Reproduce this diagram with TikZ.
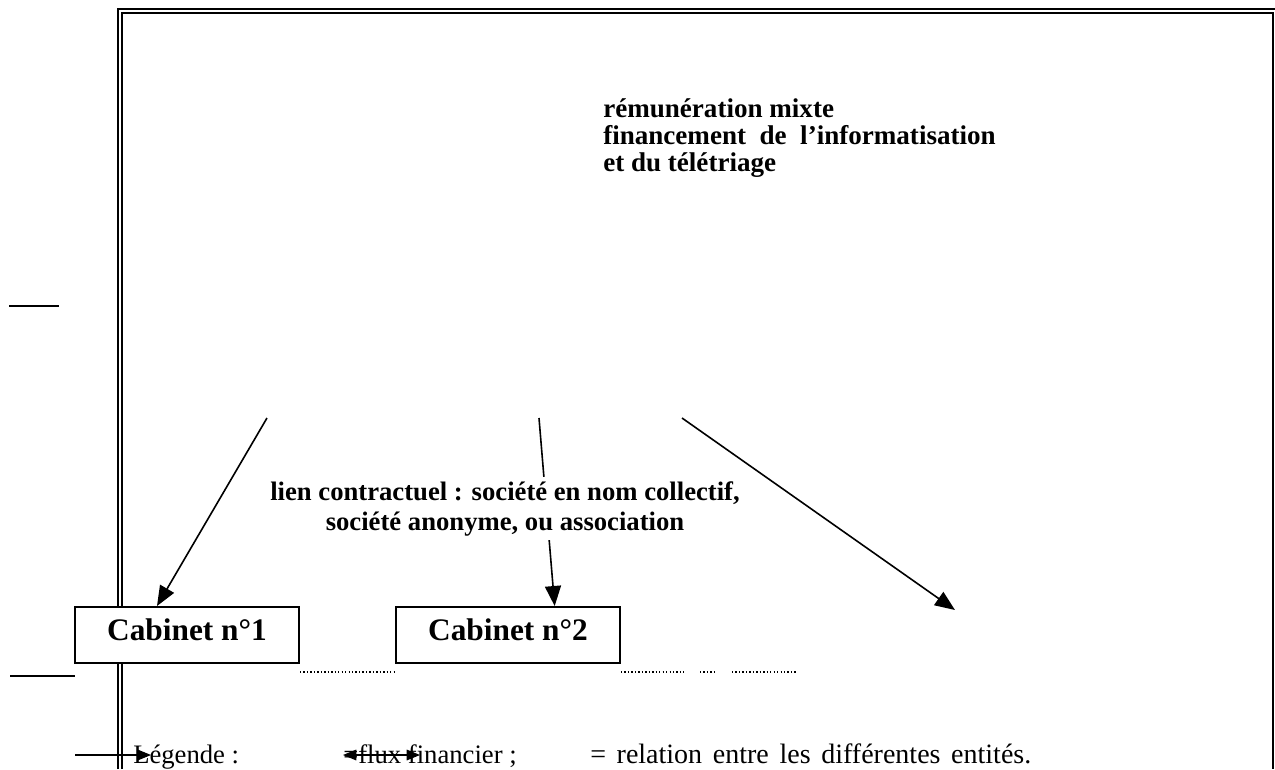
\documentclass[tikz,border=0pt]{standalone}
\usepackage{fontspec}
\setmainfont{Liberation Serif}
\usetikzlibrary{arrows.meta,positioning}
\tikzset{
	cabinet/.style={draw, line width=1.5pt, fill=white, font=\fontsize{23.5}{28}\selectfont\bfseries,
		minimum width=168pt, inner sep=0pt, text height=24.75pt, text depth=17.25pt},
	bigtext/.style={font=\fontsize{20.3}{20.25}\selectfont\bfseries, align=left, inner sep=0pt},
	lientext/.style={font=\fontsize{20}{22.5}\selectfont\bfseries, align=center, fill=white, inner sep=3pt},
	legende/.style={font=\fontsize{20}{24}\selectfont, inner sep=0pt, anchor=base west},
	fleche/.style={line width=1.2pt, -{Triangle[length=15pt,width=12pt]}},
	petite fleche/.style={line width=0.8pt},
	cadre/.style={line width=1.5pt},
	pointille/.style={line width=1pt, dash pattern=on 1pt off 1.6pt},
}
\begin{document}
\begin{tikzpicture}[x=0.75pt,y=-0.75pt]
	\useasboundingbox (0,0) rectangle (1275,769);
	% cadre
	\draw[cadre] (117.5,769) -- (117.5,9) -- (1275,9);
	\draw[cadre] (121.5,769) -- (121.5,13) -- (1272.5,13) -- (1272.5,769);
	\draw[line width=1.5pt] (9,306) -- (59,306);
	\draw[line width=1.5pt] (10,676) -- (75,676);
	\draw[petite fleche, -{Triangle[length=10pt,width=8pt]}] (75,755) -- (151,755);
	
	\node[bigtext, anchor=base west] (remun) at (603,171) {rémunération mixte\\financement\ \ de\ \ l’informatisation\\et du télétriage};
	
	\coordinate (src1) at (267,418);
	\coordinate (src2) at (539,418);
	\coordinate (src3) at (682,418);
	\coordinate (tip3) at (955,610);
	
	\node[cabinet] (cab1) at (187,635) {Cabinet n°1};
	\node[cabinet, right=71.25pt of cab1] (cab2) {Cabinet n°2};
	
	\draw[fleche] (src1) -- ([xshift=-22.5pt]cab1.north);
	\draw[fleche] (src2) -- ([xshift=35pt]cab2.north);
	\draw[fleche] (src3) -- (tip3);
	\node[lientext, anchor=base] (lien) at (505,530) {lien contractuel : société en nom collectif,\\société anonyme, ou association};
	
	\draw[pointille] ([yshift=-6pt]cab1.south east) -- ([yshift=-6pt]cab2.south west);
	\draw[pointille] ([yshift=-6pt]cab2.south east) -- ++(63,0) ++(16,0) -- ++(14,0) ++(18,0) -- ++(64,0);
	
	% legende
	\node[legende] (leg) at (133,763) {Légende :};
	\node[legende] (flux) at (343,763) {=flux financier ;};
	\node[legende, font=\fontsize{21}{24}\selectfont] (relation) at (590,763) {\spaceskip=8pt\relax = relation entre les différentes entités.};
	\draw[petite fleche, {Triangle[length=10pt,width=8pt]}-{Triangle[length=10pt,width=8pt]}] (343,755) -- (420,755);
\end{tikzpicture}
\end{document}
